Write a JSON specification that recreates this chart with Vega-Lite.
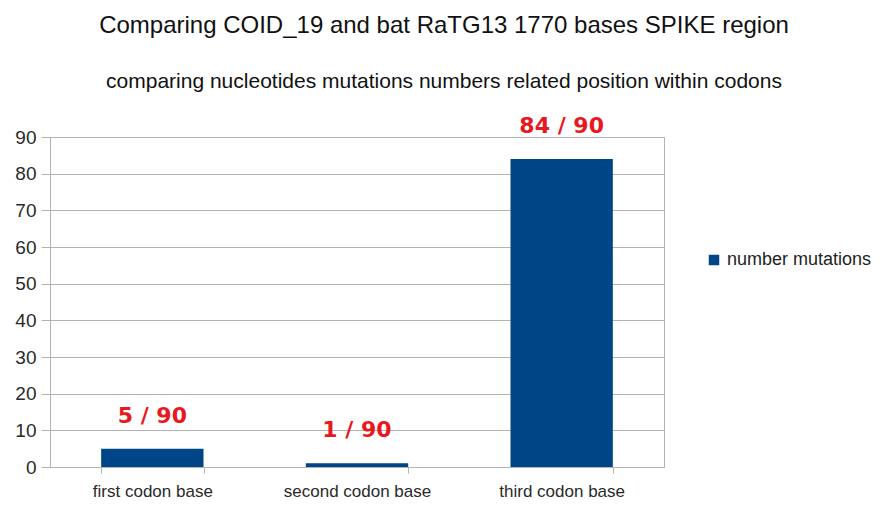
{
  "$schema": "https://vega.github.io/schema/vega-lite/v6.json",
  "width": 614,
  "height": 330,
  "autosize": "none",
  "padding": {"left": 50, "top": 137, "right": 227, "bottom": 41},
  "background": "white",
  "title": {
    "text": "Comparing COID_19 and bat RaTG13 1770 bases SPIKE region",
    "subtitle": "comparing nucleotides mutations numbers related position within codons",
    "anchor": "middle",
    "dx": 87,
    "font": "Liberation Sans",
    "fontSize": 24,
    "fontWeight": "normal",
    "color": "#111111",
    "subtitleFont": "Liberation Sans",
    "subtitleFontSize": 21,
    "subtitleColor": "#111111",
    "subtitlePadding": 33,
    "offset": 23
  },
  "data": {
    "values": [
      {"position": "first codon base", "mutations": 5, "label": "5 / 90", "series": "number mutations"},
      {"position": "second codon base", "mutations": 1, "label": "1 / 90", "series": "number mutations"},
      {"position": "third codon base", "mutations": 84, "label": "84 / 90", "series": "number mutations"}
    ]
  },
  "config": {
    "view": {"stroke": "#b3b3b3"},
    "axis": {"labelFont": "Liberation Sans", "labelColor": "#2a2a2a", "domainColor": "#b3b3b3", "tickColor": "#b3b3b3", "gridColor": "#b3b3b3", "title": null}
  },
  "encoding": {
    "x": {
      "field": "position", "type": "nominal", "sort": null,
      "scale": {"paddingInner": 0.5, "paddingOuter": 0.25},
      "axis": {"labelAngle": 0, "labelFontSize": 17, "tickBand": "extent", "tickSize": 6, "labelPadding": 10, "grid": false}
    },
    "y": {
      "field": "mutations", "type": "quantitative",
      "scale": {"domain": [0, 90]},
      "axis": {"values": [0,10,20,30,40,50,60,70,80,90], "labelFontSize": 19, "tickSize": 9, "labelPadding": 5, "grid": true}
    }
  },
  "layer": [
    {
      "mark": {"type": "bar"},
      "encoding": {
        "color": {
          "field": "series", "type": "nominal",
          "scale": {"range": ["#004586"]},
          "legend": {"title": null, "orient": "none", "legendX": 655, "legendY": 114, "labelFont": "Liberation Sans", "labelFontSize": 18, "labelColor": "#222222", "symbolType": "square", "symbolSize": 110, "symbolStrokeWidth": 0}
        }
      }
    },
    {
      "mark": {"type": "text", "font": "DejaVu Sans", "fontWeight": "bold", "fontSize": 22, "color": "#e8191e", "baseline": "middle", "dy": -33},
      "encoding": {"text": {"field": "label"}}
    }
  ]
}
